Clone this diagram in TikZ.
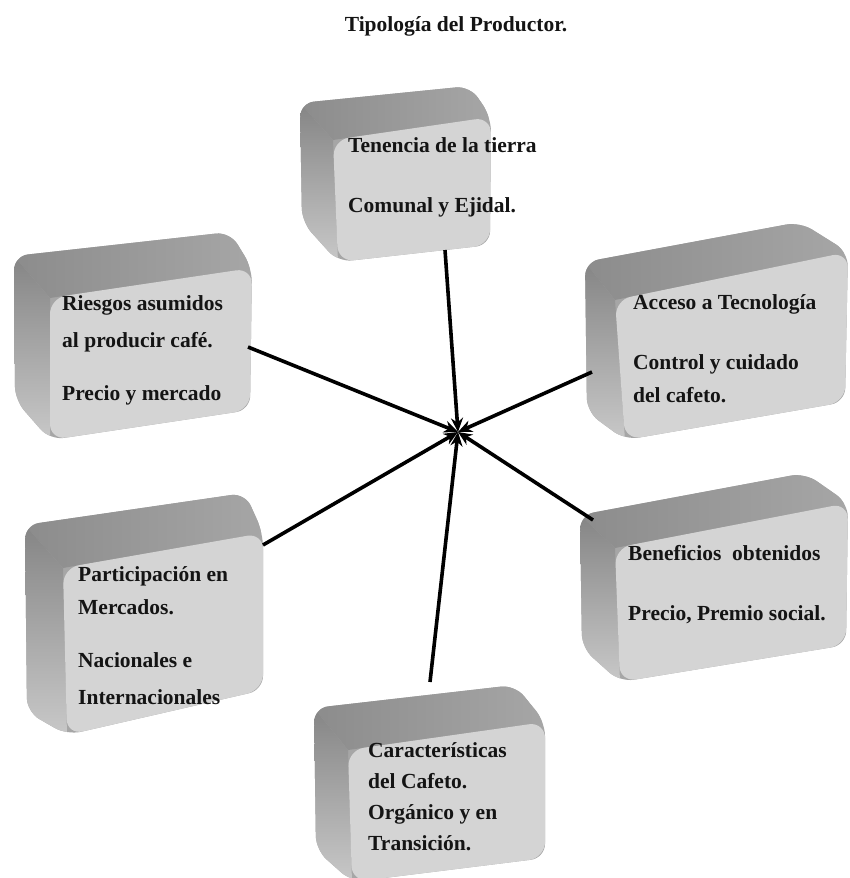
\documentclass[tikz,border=0pt]{standalone}
\usepackage{fontspec}
\setmainfont{Liberation Serif}
\usetikzlibrary{arrows.meta,calc}
\definecolor{frontgray}{HTML}{D4D4D4}
\definecolor{topgray}{HTML}{A6A6A6}
\definecolor{topdark}{HTML}{8C8C8C}
\definecolor{sidedark}{HTML}{858585}
\definecolor{sidelight}{HTML}{C8C8C8}
\definecolor{inkblack}{HTML}{141414}
\tikzset{
  boxtext/.style={font=\bfseries\fontsize{21.5}{33}\selectfont, text=inkblack, align=left, anchor=base west, inner sep=0pt},
  titletext/.style={font=\bfseries\fontsize{21.5}{25}\selectfont, text=inkblack, inner sep=0pt},
  spoke/.style={line width=3.6pt, black, -{Stealth[length=14pt,width=12pt]}}
}
% #1 back TL, #2 back TR, #3 front TR, #4 front BR, #5 front BL, #6 back BL, #7 front TL
\newcommand{\prismbox}[7]{%
  \fill[topgray, rounded corners=14pt] #1 -- #2 -- #3 -- #4 -- #5 -- #6 -- cycle;
  \begin{scope}
    \clip[rounded corners=14pt] #1 -- #2 -- #3 -- #4 -- #5 -- #6 -- cycle;
    \shade[left color=topdark, right color=topgray] #1 -- #2 -- #3 -- #7 -- cycle;
    \shade[top color=sidedark, bottom color=sidelight] #1 -- #7 -- #5 -- #6 -- cycle;
  \end{scope}
  \fill[frontgray, rounded corners=16pt] #7 -- #3 -- #4 -- #5 -- cycle;
}
\begin{document}
\begin{tikzpicture}[x=1pt,y=1pt]
\useasboundingbox (0,0) rectangle (850,-878);
\fill[white] (0,0) rectangle (850,-878);

% boxes
\prismbox{(300,-103)}{(470,-86)}{(491,-117)}{(490,-245)}{(338,-262)}{(302,-222)}{(333,-140)}
\prismbox{(585,-262)}{(800,-222)}{(848,-252)}{(845,-402)}{(625,-440)}{(587,-412)}{(615,-300)}
\prismbox{(580,-515)}{(805,-473)}{(848,-503)}{(846,-645)}{(620,-682)}{(582,-648)}{(615,-548)}
\prismbox{(14,-256)}{(230,-232)}{(252,-268)}{(250,-410)}{(50,-440)}{(15,-400)}{(50,-298)}
\prismbox{(25,-525)}{(245,-493)}{(263,-533)}{(263,-690)}{(67,-735)}{(27,-712)}{(63,-568)}
\prismbox{(314,-708)}{(515,-685)}{(545,-722)}{(545,-858)}{(352,-882)}{(316,-850)}{(348,-750)}

% title
\node[titletext] (title) at (456,-26) {Tipología del Productor.};

% texts (anchored at the baseline of their last line)
\node[boxtext] (tierra) at (348,-212) {Tenencia de la tierra\\[27pt]Comunal y Ejidal.};
\node[boxtext] (tecno) at (633,-402) {Acceso a Tecnología\\[27pt]Control y cuidado\\del cafeto.};
\node[boxtext] (benef) at (628,-620) {Beneficios\ \ obtenidos\\[27pt]Precio, Premio social.};
\node[boxtext] (riesgo) at (62,-400) {Riesgos asumidos\\[4pt]al producir café.\\[20pt]Precio y mercado};
\node[boxtext] (merc) at (78,-704) {Participación en\\Mercados.\\[20pt]Nacionales e\\[4pt]Internacionales};
\node[boxtext, font=\bfseries\fontsize{21.5}{31}\selectfont] (cafe) at (368,-850) {Características\\del Cafeto.\\Orgánico y en\\Transición.};

% connector ends
\coordinate (hub) at (458,-432);
\coordinate (tierra-out) at (445,-250);
\coordinate (tecno-out) at (592,-372);
\coordinate (benef-out) at (593,-520);
\coordinate (riesgo-out) at (248,-347);
\coordinate (merc-out) at (263,-545);
\coordinate (cafe-out) at (430,-682);

\foreach \s in {tierra,tecno,benef,riesgo,merc,cafe}
  \draw[spoke] (\s-out) -- (hub);
\end{tikzpicture}
\end{document}
